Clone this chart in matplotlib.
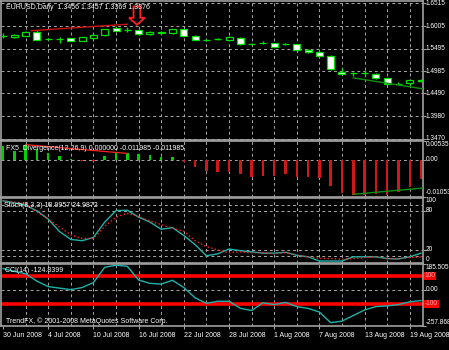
import matplotlib
matplotlib.use("Agg")
import matplotlib.pyplot as plt
from matplotlib.transforms import blended_transform_factory
import numpy as np

plt.rcParams['font.family'] = ['Liberation Sans', 'DejaVu Sans']

# --- data (one value per daily bar) ---
date_labels = ["30 Jun 2008", "4 Jul 2008", "10 Jul 2008", "16 Jul 2008", "22 Jul 2008",
               "28 Jul 2008", "1 Aug 2008", "7 Aug 2008", "13 Aug 2008", "19 Aug 2008"]

opens = [1.5790, 1.5765, 1.5787, 1.5877, 1.5705, 1.5712, 1.5728, 1.5675, 1.5728, 1.5795,
         1.5967, 1.5915, 1.5915, 1.5818, 1.5877, 1.5840, 1.5930, 1.5787, 1.5690, 1.5705,
         1.5690, 1.5743, 1.5600, 1.5612, 1.5612, 1.5600, 1.5593, 1.5465, 1.5413, 1.5337,
         1.4977, 1.4940, 1.4943, 1.4925, 1.4828, 1.4695, 1.4715, 1.4790]
highs = [1.5840, 1.5830, 1.5890, 1.5915, 1.5730, 1.5765, 1.5740, 1.5765, 1.5830, 1.5945,
         1.5985, 1.5990, 1.5925, 1.5890, 1.5890, 1.5940, 1.5940, 1.5795, 1.5710, 1.5730,
         1.5778, 1.5750, 1.5615, 1.5665, 1.5625, 1.5630, 1.5600, 1.5490, 1.5440, 1.5345,
         1.5060, 1.4970, 1.5015, 1.4940, 1.4840, 1.4740, 1.4800, 1.4810]
lows = [1.5735, 1.5745, 1.5775, 1.5680, 1.5690, 1.5630, 1.5665, 1.5665, 1.5715, 1.5785,
        1.5890, 1.5862, 1.5810, 1.5805, 1.5830, 1.5830, 1.5778, 1.5680, 1.5670, 1.5690,
        1.5680, 1.5580, 1.5590, 1.5600, 1.5530, 1.5585, 1.5445, 1.5405, 1.5300, 1.5005,
        1.4915, 1.4885, 1.4850, 1.4815, 1.4690, 1.4680, 1.4680, 1.4745]
closes = [1.5788, 1.5810, 1.5877, 1.5690, 1.5708, 1.5715, 1.5675, 1.5750, 1.5803, 1.5930,
          1.5900, 1.5912, 1.5818, 1.5877, 1.5840, 1.5930, 1.5787, 1.5690, 1.5692, 1.5708,
          1.5765, 1.5593, 1.5598, 1.5615, 1.5538, 1.5598, 1.5465, 1.5413, 1.5330, 1.5030,
          1.4925, 1.4943, 1.4940, 1.4828, 1.4700, 1.4693, 1.4790, 1.4760]

divergence = [0.0039, 0.0024, 0.0042, 0.0032, 0.0020, 0.0012, 0.0001, -0.0005, -0.0003, 0.0010,
              0.0020, 0.0018, 0.0017, 0.0013, 0.0007, 0.0007, -0.0007, -0.0022, -0.0032, -0.0036,
              -0.0034, -0.0042, -0.0049, -0.0046, -0.0046, -0.0042, -0.0049, -0.0049, -0.0052, -0.0076,
              -0.0095, -0.0101, -0.0101, -0.0098, -0.0101, -0.0091, -0.0078, -0.0054]

stoch_k = [95, 92, 88, 79.7, 67, 48, 36, 34, 39, 62.5, 80, 80.5, 70, 62.5, 51.5, 54, 42, 28, 11, 14,
           21.4, 18.8, 17, 15, 15, 16.4, 11.7, 9.4, 3, 3, 3, 9.4, 9.4, 9.4, 6.7, 6.2, 9.4, 15]
stoch_d = [95, 93, 90, 78, 67, 55, 43, 37.5, 37.5, 56, 70, 76, 71, 64, 58.6, 53, 48.4, 34, 25, 20,
           15.6, 17, 15.6, 16, 14, 16, 12, 9.4, 7, 6.7, 5.8, 6.7, 8.3, 9.4, 6.7, 6.7, 8.3, 9.4]

cci = [153, 133, 115, 63, 24, 13, 2, 17, 53, 162, 177, 169, 71, 47, 42, 69, 17, -56, -96, -81,
       -81, -131, -147, -92, -105, -89, -119, -132, -158, -234, -223, -183, -143, -119, -114, -105, -85, -76]

price_ticks = [1.6515, 1.6005, 1.5495, 1.4985, 1.4490, 1.3980, 1.3470]

# trend lines drawn on the chart (bar index, value)
hi_line_x, hi_line_y = [2.5, 11], [1.5900, 1.6045]
lo_line_x, lo_line_y = [31, 37.2], [1.4838, 1.4590]
div_red_x, div_red_y = [2, 11], [0.0043, 0.0018]
div_green_x, div_green_y = [31, 37.2], [-0.0099, -0.0081]
arrow_bar, arrow_tip, arrow_top = 11.85, 1.6035, 1.6445

n = len(closes)
x = np.arange(n)

W, H = 449, 350
fig = plt.figure(figsize=(W / 100, H / 100), dpi=100, facecolor='black')

def make_ax(top, bottom):
    ax = fig.add_axes([1 / W, 1 - bottom / H, 422 / W, (bottom - top) / H])
    ax.set_facecolor('black')
    for s in ax.spines.values():
        s.set_color('#a0a0a0')
        s.set_linewidth(1.2)
    ax.set_xlim(-0.18, 37.17)
    ax.tick_params(axis='x', bottom=False, labelbottom=False)
    ax.yaxis.tick_right()
    ax.tick_params(axis='y', length=2, color='#a0a0a0', labelright=False)
    for g in range(2, 37, 2):
        ax.axvline(g, color='#a8a8a8', lw=0.7, ls=(0, (3, 3)), zorder=0)
    return ax

grid_kw = dict(color='#a8a8a8', lw=0.7, ls=(0, (3, 3)), zorder=0)
lab_kw = dict(color='white', fontsize=5, ha='left')
ax_kw = dict(color='white', fontsize=4.7, ha='left')

ax1 = make_ax(1, 140)
ax2 = make_ax(141, 196.5)
ax3 = make_ax(197.5, 263)
ax4 = make_ax(264, 326)

# ---- main price panel ----
ax1.set_ylim(1.344, 1.6568)
for p in price_ticks:
    ax1.axhline(p, **grid_kw)
ax1.set_yticks(price_ticks)
tr1 = blended_transform_factory(ax1.transAxes, ax1.transData)
for p in price_ticks:
    ax1.text(1.007, p, f"{p:.4f}", transform=tr1, va='center', **ax_kw)

o = np.array(opens); c = np.array(closes)
body_lo = np.minimum(o, c)
body_h = np.abs(c - o)
fills = ['white' if cc < oo else 'black' for oo, cc in zip(opens, closes)]
ax1.vlines(x, lows, highs, color='#00e000', lw=1, zorder=2)
ax1.bar(x, body_h, bottom=body_lo, width=0.62, color=fills, edgecolor='#00e000',
        linewidth=0.9, zorder=3)
ax1.plot(hi_line_x, hi_line_y, color='#d01010', lw=1, zorder=4)
ax1.plot(lo_line_x, lo_line_y, color='#109010', lw=1, zorder=4)

head_y = arrow_tip + (arrow_top - arrow_tip) * 0.38
arrow_xs = [arrow_bar - 0.3, arrow_bar + 0.3, arrow_bar + 0.3, arrow_bar + 0.7,
            arrow_bar, arrow_bar - 0.7, arrow_bar - 0.3, arrow_bar - 0.3]
arrow_ys = [arrow_top, arrow_top, head_y, head_y, arrow_tip, head_y, head_y, arrow_top]
ax1.fill(arrow_xs, arrow_ys, facecolor='black', edgecolor='#ff2020', lw=1.3, zorder=5)

ax1.text(5 / 422, 0.955, "EURUSD,Daily  1.3456 1.3457 1.3369 1.3376",
         transform=ax1.transAxes, va='center', zorder=6, **lab_kw)

# ---- divergence panel ----
ax2.set_ylim(-0.01053, 0.00535)
ax2.axhline(0, **grid_kw)
ax2.set_yticks([0.00535, 0, -0.01053])
bar_cols = ['#00d000' if v >= 0 else '#d01818' for v in divergence]
ax2.bar(x, divergence, width=0.22, color=bar_cols, zorder=2)
ax2.plot(div_red_x, div_red_y, color='#ff2020', lw=0.9, zorder=3)
ax2.plot(div_green_x, div_green_y, color='#109010', lw=1, zorder=3)
tr2 = blended_transform_factory(ax2.transAxes, ax2.transData)
ax2.text(1.007, 0.00535, "0.00535", transform=tr2, va='top', **ax_kw)
ax2.text(1.007, 0, "0.00", transform=tr2, va='center', **ax_kw)
ax2.text(1.007, -0.01053, "-0.01053", transform=tr2, va='bottom', **ax_kw)
ax2.text(5 / 422, 0.87, "FX5_Divergence(12,26,9) 0.000000 -0.011985 -0.011985",
         transform=ax2.transAxes, va='center', zorder=6, **lab_kw)

# ---- stochastic panel ----
ax3.set_ylim(0, 100)
for lv in [89, 80, 20, 10.5]:
    ax3.axhline(lv, **grid_kw)
ax3.set_yticks([80, 20])
ax3.plot(x, stoch_k, color='#20b2aa', lw=1, zorder=3)
ax3.plot(x, stoch_d, color='#ff2020', lw=1, ls=':', zorder=3)
tr3 = blended_transform_factory(ax3.transAxes, ax3.transData)
ax3.text(1.007, 100, "100", transform=tr3, va='top', **ax_kw)
ax3.text(1.007, 80, "80", transform=tr3, va='center', **ax_kw)
ax3.text(1.007, 20, "20", transform=tr3, va='center', **ax_kw)
ax3.text(1.007, 0, "0", transform=tr3, va='bottom', **ax_kw)
ax3.text(3 / 422, 0.88, "Stoch(8,3,3) 18.9957 24.9872",
         transform=ax3.transAxes, va='center', zorder=6, **lab_kw)

# ---- CCI panel ----
ax4.set_ylim(-257.868, 185.505)
ax4.axhline(0, **grid_kw)
ax4.axhline(100, color='#ff0000', lw=2.6, zorder=2)
ax4.axhline(-100, color='#ff0000', lw=2.6, zorder=2)
ax4.set_yticks([185.505, 0, -257.868])
ax4.plot(x, cci, color='#20b2aa', lw=1, zorder=3)
tr4 = blended_transform_factory(ax4.transAxes, ax4.transData)
ax4.text(1.007, 185.505, "185.505", transform=tr4, va='top', **ax_kw)
ax4.text(1.007, 0, "0.00", transform=tr4, va='center', **ax_kw)
ax4.text(1.007, -257.868, "-257.868", transform=tr4, va='bottom', **ax_kw)
for lv in [100, -100]:
    ax4.text(1.004, lv, f"{lv}", transform=tr4, va='center', ha='left', fontsize=4.7,
             color='#ffb0b0', bbox=dict(facecolor='#ff0000', edgecolor='none', pad=0.6))
ax4.text(4 / 422, 0.9, "CCI(14) -124.8399",
         transform=ax4.transAxes, va='center', zorder=6, **lab_kw)
ax4.text(5 / 422, 0.08, "TrendFX, \u00a9 2001-2008 MetaQuotes Software Corp.",
         transform=ax4.transAxes, va='center', zorder=6, **lab_kw)

ax4.set_xticks(x[::4])
ax4.set_xticklabels(date_labels, ha='left', color='white', fontsize=5)
ax4.tick_params(axis='x', bottom=True, labelbottom=True, length=2, color='#a0a0a0', pad=2)

fig.savefig("out.png", dpi=100, facecolor='black')
